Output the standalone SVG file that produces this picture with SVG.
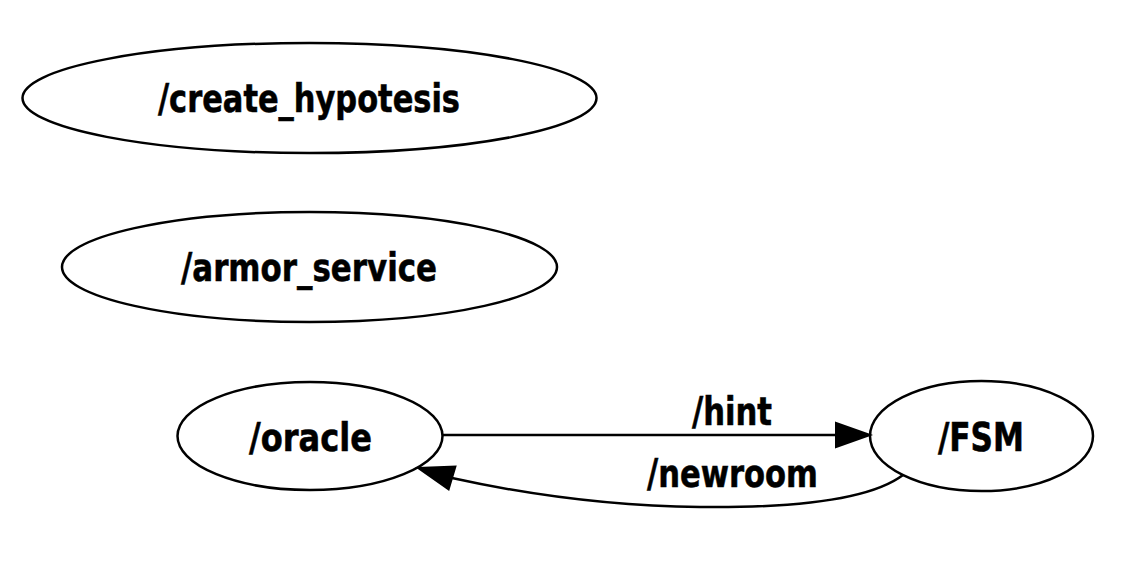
<svg xmlns="http://www.w3.org/2000/svg" width="1129" height="576" viewBox="0 0 1129 576">
<style>
.node ellipse{fill:#fff;stroke:#000;stroke-width:2.5}
.lbl{font-family:"DejaVu Sans","Liberation Sans",sans-serif;font-weight:bold;font-size:39px;fill:#000;stroke:#000;stroke-width:0.6}
.edge path{fill:none;stroke:#000;stroke-width:2.5}
.edge polygon{fill:#000;stroke:#000;stroke-width:2}
</style>
<rect width="1129" height="576" fill="#fff"/>
<g id="create_hypotesis" class="node">
<ellipse cx="309.5" cy="98" rx="287" ry="55"/>
<text class="lbl" x="158" y="112" textLength="302" lengthAdjust="spacingAndGlyphs">/create_hypotesis</text>
</g>
<g id="armor_service" class="node">
<ellipse cx="309.5" cy="267" rx="247.5" ry="55"/>
<text class="lbl" x="181" y="281" textLength="256" lengthAdjust="spacingAndGlyphs">/armor_service</text>
</g>
<g id="oracle" class="node">
<ellipse cx="310" cy="436" rx="132.5" ry="54"/>
<text class="lbl" x="249" y="451" textLength="123" lengthAdjust="spacingAndGlyphs">/oracle</text>
</g>
<g id="FSM" class="node">
<ellipse cx="981.5" cy="436" rx="111.5" ry="55"/>
<text class="lbl" x="938" y="451" textLength="86" lengthAdjust="spacingAndGlyphs">/FSM</text>
</g>
<g id="connectors">
<g id="edge_hint" class="edge">
<path d="M443,435 L838,435"/>
<polygon points="870,435 836,423 836,447"/>
<text class="lbl" x="692" y="425" textLength="80" lengthAdjust="spacingAndGlyphs">/hint</text>
</g>
<g id="edge_newroom" class="edge">
<path d="M903,475 C870,500 790,508 700,507 C600,506 520,493 452,478"/>
<polygon points="418,468 455.4,466.5 448.6,489.5"/>
<text class="lbl" x="647" y="487" textLength="171" lengthAdjust="spacingAndGlyphs">/newroom</text>
</g>
</g>
</svg>
